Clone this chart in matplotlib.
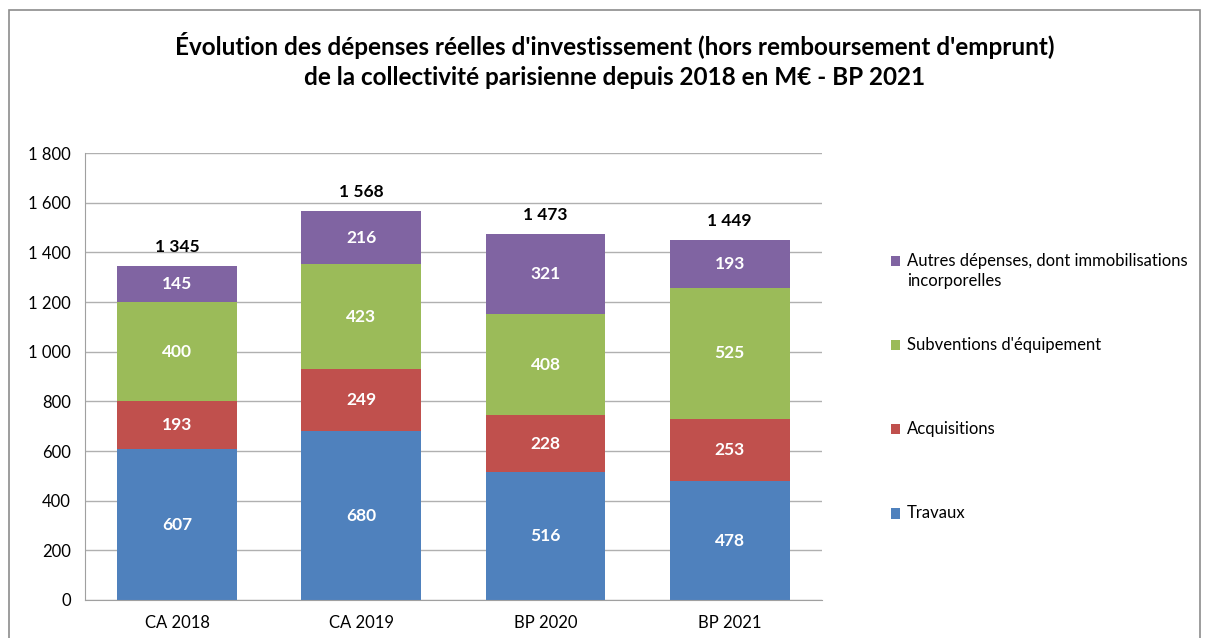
import matplotlib
matplotlib.use("Agg")
import matplotlib.pyplot as plt
from matplotlib.patches import Rectangle, Patch
import numpy as np

plt.rcParams['font.family'] = ['Lato', 'DejaVu Sans']

# data (M€)
categories = ["CA 2018", "CA 2019", "BP 2020", "BP 2021"]
travaux = [607, 680, 516, 478]
acquisitions = [193, 249, 228, 253]
subventions = [400, 423, 408, 525]
autres = [145, 216, 321, 193]
totals = [1345, 1568, 1473, 1449]

series_names = ["Travaux", "Acquisitions", "Subventions d'équipement",
                "Autres dépenses, dont immobilisations\nincorporelles"]
colors = ["#4F81BD", "#C0504D", "#9BBB59", "#8064A2"]

def fmt(v):
    return f"{v:,}".replace(",", " ")

fig = plt.figure(figsize=(12.05, 6.38), dpi=100)
ax = fig.add_axes([0.0705, 0.0596, 0.6115, 0.7004])

x = np.arange(len(categories))
bottom = np.zeros(len(categories))
for name, vals, col in zip(series_names, [travaux, acquisitions, subventions, autres], colors):
    bars = ax.bar(x, vals, width=0.65, bottom=bottom, color=col, zorder=2)
    for b, v in zip(bars, vals):
        ax.text(b.get_x() + b.get_width() / 2, b.get_y() + v / 2, fmt(v),
                ha="center", va="center", color="white", fontsize=12.5, fontweight="bold")
    bottom += np.array(vals)

for xi, t, top in zip(x, totals, bottom):
    ax.text(xi, top + 45, fmt(t), ha="center", va="bottom", fontsize=12.5, fontweight="bold")

ax.set_xlim(-0.5, 3.5)
ax.set_ylim(0, 1800)
ax.set_yticks(range(0, 1801, 200))
ax.set_yticklabels([fmt(v) for v in range(0, 1801, 200)], fontsize=12)
ax.set_xticks(x)
ax.set_xticklabels(categories, fontsize=12)
ax.tick_params(length=0, pad=10)
ax.tick_params(axis="x", pad=11)
ax.grid(axis="y", color="#B0B0B0", linewidth=1, zorder=0)
for s in ["top", "right"]:
    ax.spines[s].set_visible(False)
for s in ["left", "bottom"]:
    ax.spines[s].set_color("#A0A0A0")

# legend entries placed like the original (top entry first)
leg_y = [0.592, 0.460, 0.328, 0.196]
for name, col, yy in zip(series_names[::-1], colors[::-1], leg_y):
    fig.patches.append(Rectangle((0.7395, yy - 0.009), 0.0075, 0.016, transform=fig.transFigure,
                                 facecolor=col, edgecolor="none"))
    if "\n" in name:
        fig.text(0.7525, yy + 0.012, name, va="top", fontsize=12, linespacing=1.3)
    else:
        fig.text(0.7525, yy, name, va="center", fontsize=12)

fig.text(0.51, 0.929, "Évolution des dépenses réelles d'investissement (hors remboursement d'emprunt)",
         ha="center", va="center", fontsize=17.5, fontweight="bold")
fig.text(0.51, 0.879, "de la collectivité parisienne depuis 2018 en M€ - BP 2021",
         ha="center", va="center", fontsize=17.5, fontweight="bold")

# outer chart frame
fig.patches.append(Rectangle((9 / 1205, -0.05), 1191 / 1205, 1.05 - 10 / 638, transform=fig.transFigure,
                             fill=False, edgecolor="#8C8C8C", linewidth=1.2))

fig.savefig("out.png", dpi=100)
